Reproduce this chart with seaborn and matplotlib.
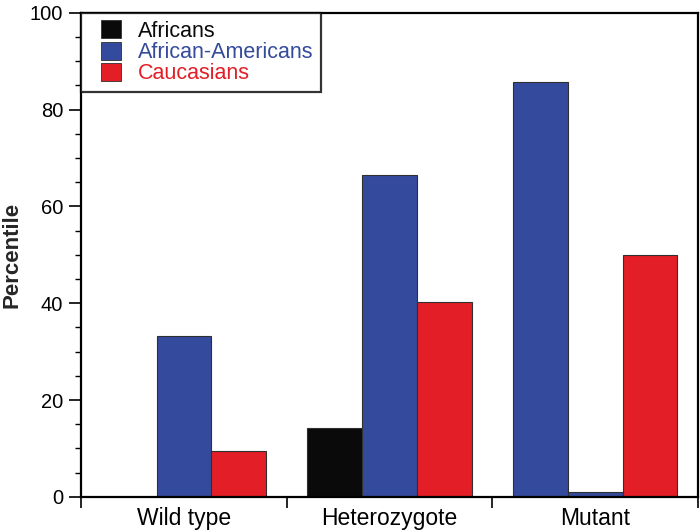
import matplotlib
matplotlib.use("Agg")
import matplotlib.pyplot as plt
import seaborn as sns
import pandas as pd
from matplotlib.patches import Patch, Rectangle
from matplotlib.legend_handler import HandlerPatch
from matplotlib.ticker import MultipleLocator, FixedLocator, FixedFormatter

categories = ["Wild type", "Heterozygote", "Mutant"]
groups = ["Africans", "African-Americans", "Caucasians"]
africans = [0, 14.3, 85.7]
african_americans = [33.3, 66.4, 1.0]
caucasians = [9.5, 40.3, 50.0]
colors = ["#0a0a0a", "#344a9c", "#e31e26"]

rows = []
for g, vals in zip(groups, [africans, african_americans, caucasians]):
    for c, v in zip(categories, vals):
        rows.append({"Genotype": c, "Group": g, "Percentile": v})
df = pd.DataFrame(rows)

sns.set_style("white")
plt.rcParams["font.family"] = ["Liberation Sans", "DejaVu Sans"]

fig = plt.figure(figsize=(7, 5.32), dpi=100)
ax = fig.add_axes([0.116, 0.066, 0.881, 0.910])

sns.barplot(data=df, x="Genotype", y="Percentile", hue="Group",
            order=categories, hue_order=groups, palette=colors,
            saturation=1, width=0.8, ax=ax, legend=False, errorbar=None,
            edgecolor="#303030", linewidth=0.8)

# In the reference, the Mutant "Africans" bar is drawn in blue
ax.containers[0][2].set_facecolor(colors[1])

ax.set_xlim(-0.5, 2.5)
ax.set_ylim(0, 100)
ax.yaxis.set_major_locator(MultipleLocator(20))
ax.yaxis.set_minor_locator(MultipleLocator(5))
ax.xaxis.set_major_locator(FixedLocator([-0.5, 0.5, 1.5, 2.5]))
ax.xaxis.set_minor_locator(FixedLocator([0, 1, 2]))
ax.xaxis.set_major_formatter(FixedFormatter(["", "", "", ""]))
ax.xaxis.set_minor_formatter(FixedFormatter(categories))
ax.tick_params(axis="x", which="major", direction="out", length=8, width=1.2,
               bottom=True, color="black")
ax.tick_params(axis="x", which="minor", length=0, labelsize=16.5, pad=7,
               labelcolor="black")
ax.tick_params(axis="y", which="major", direction="out", length=9, width=1.2,
               left=True, labelsize=14.5, pad=4, color="black",
               labelcolor="black")
ax.tick_params(axis="y", which="minor", direction="out", length=4, width=1.0,
               left=True, color="black")

for s in ax.spines.values():
    s.set_visible(True)
    s.set_color("black")
    s.set_linewidth(1.6)

ax.set_xlabel("")
ax.set_ylabel("Percentile", fontsize=16, fontweight="bold", labelpad=5)


def square_patch(legend, orig_handle, xdescent, ydescent, width, height, fontsize):
    frac = 12.0 / 32.0
    return Rectangle((-xdescent + width * frac, -ydescent),
                     width * (1 - frac), height)


handles = [Patch(facecolor=c, edgecolor="#303030", linewidth=0.6) for c in colors]
leg = ax.legend(handles, groups, loc="upper left", bbox_to_anchor=(0, 1),
                borderaxespad=0, fancybox=False, frameon=True,
                edgecolor="black", fontsize=15.5, handlelength=1.5,
                handleheight=0.9, handletextpad=0.8, labelspacing=0.0,
                borderpad=0.35,
                handler_map={Patch: HandlerPatch(patch_func=square_patch)})
leg.get_frame().set_linewidth(1.6)
for t, c in zip(leg.get_texts(), colors):
    t.set_color(c)

fig.savefig("out.png", dpi=100)
